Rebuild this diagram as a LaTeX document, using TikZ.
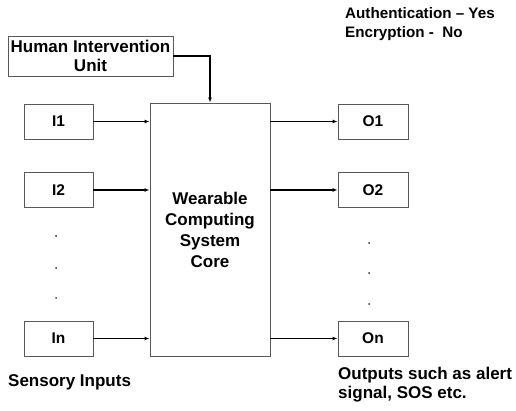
\documentclass[tikz,border=0pt]{standalone}
\usepackage{fontspec}
\setmainfont{Liberation Sans}
\usetikzlibrary{arrows.meta}
\begin{document}
\begin{tikzpicture}[x=1pt,y=-1pt,
  box/.style={draw=black!65,line width=0.9pt,fill=white,inner sep=0pt,font=\bfseries\fontsize{15.5}{17}\selectfont},
  conn/.style={line width=1.4pt,-{Latex[length=5pt,width=4pt]}},
  lbl/.style={font=\bfseries\fontsize{17}{19}\selectfont,inner sep=0pt,align=left},
  dotm/.style={circle,fill=black!80,inner sep=0pt,minimum size=2pt}]
\fill[white] (0,0) rectangle (516,411);
\useasboundingbox (0,0) rectangle (516,411);
% boxes
\node[box,minimum width=165pt,minimum height=40pt,align=center,font=\bfseries\fontsize{17}{19.5}\selectfont] (hi) at (90.5,56) {Human Intervention\\Unit};
\node[box,minimum width=120pt,minimum height=253pt,align=center,font=\bfseries\fontsize{17}{21}\selectfont] (core) at (210,229.5) {Wearable\\Computing\\System\\Core};
\node[box,minimum width=69pt,minimum height=35pt] (i1) at (58.5,121.5) {I1};
\node[box,minimum width=69pt,minimum height=35pt] (i2) at (58.5,190) {I2};
\node[box,minimum width=69pt,minimum height=35pt] (in) at (58.5,338.5) {In};
\node[box,minimum width=70pt,minimum height=35pt] (o1) at (373,121.5) {O1};
\node[box,minimum width=70pt,minimum height=35pt] (o2) at (373,190) {O2};
\node[box,minimum width=70pt,minimum height=35pt] (on) at (373,338.5) {On};
% dots
\node[dotm] (dl1) at (56,236) {};
\node[dotm] (dl2) at (56,268) {};
\node[dotm] (dl3) at (56,298) {};
\node[dotm] (dr1) at (369,243) {};
\node[dotm] (dr2) at (369,273) {};
\node[dotm] (dr3) at (369,304) {};
% connectors
\draw[conn] (hi.east) -| (core.north);
\draw[conn] (i1.east) -- (i1.east -| core.west);
\draw[conn] (i2.east) -- (i2.east -| core.west);
\draw[conn] (in.east) -- (in.east -| core.west);
\draw[conn] (o1.west -| core.east) -- (o1.west);
\draw[conn] (o2.west -| core.east) -- (o2.west);
\draw[conn] (on.west -| core.east) -- (on.west);
% labels
\node[lbl,anchor=west] (sens) at (8,382) {Sensory Inputs};
\node[lbl,anchor=west] (outs) at (338,384.5) {Outputs such as alert\\signal, SOS etc.};
\node[lbl,anchor=west,font=\bfseries\fontsize{15.2}{18.5}\selectfont] (auth) at (345,24) {Authentication – Yes\\Encryption -\ \ No};
\end{tikzpicture}
\end{document}
